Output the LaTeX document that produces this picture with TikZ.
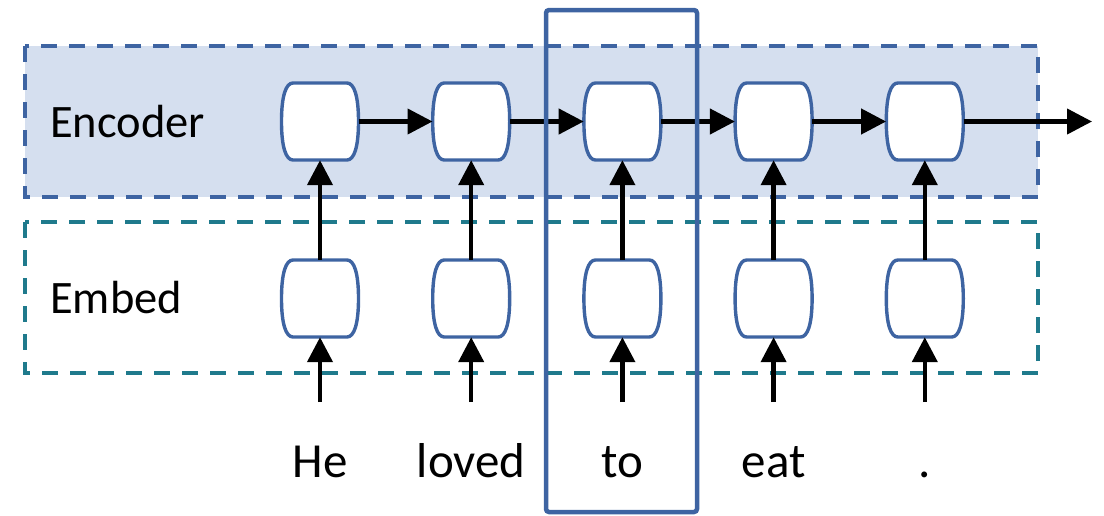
\documentclass[tikz,border=0pt]{standalone}
\usepackage{fontspec}
\setmainfont{Carlito}
\usetikzlibrary{arrows.meta}
\definecolor{encfill}{RGB}{213,223,239}
\definecolor{blueline}{RGB}{62,100,162}
\definecolor{tealline}{RGB}{31,122,140}
\tikzset{
  cellnode/.style={draw=none,inner sep=0pt,minimum width=77pt,minimum height=77pt},
  cellline/.style={draw=blueline,line width=3.4pt,fill=white},
  conn/.style={line width=4.3pt,-{Triangle[length=25pt,width=25pt]}},
  encbox/.style={draw=blueline,fill=encfill,line width=3.6pt,dash pattern=on 16pt off 12pt},
  embbox/.style={draw=tealline,line width=3.6pt,dash pattern=on 16pt off 12pt},
  hibox/.style={draw=blueline,line width=4.5pt,rounded corners=3pt},
  lbl/.style={inner sep=0pt,anchor=base west,font=\fontsize{46.5}{50}\selectfont},
  word/.style={inner sep=0pt,anchor=base,font=\fontsize{49}{52}\selectfont}
}
\newcommand{\cellat}[3]{%
  \node[cellnode] (#1) at (#2,#3) {};
  \begin{scope}[shift={(#2,#3)}]
    \path[cellline] (-27,-38.5) -- (27,-38.5)
      .. controls (34,-38.5) and (38.5,-26) .. (38.5,0)
      .. controls (38.5,26) and (34,38.5) .. (27,38.5)
      -- (-27,38.5)
      .. controls (-34,38.5) and (-38.5,26) .. (-38.5,0)
      .. controls (-38.5,-26) and (-34,-38.5) .. (-27,-38.5) -- cycle;
  \end{scope}}
\begin{document}
\begin{tikzpicture}[x=1pt,y=-1pt]
\useasboundingbox (0,0) rectangle (1104,515);
% group boxes
\path[encbox] (25,46) rectangle (1038,197);
\path[embbox] (25,222) rectangle (1038,373);
\node[lbl] (enc) at (50,137) {Encoder};
\node[lbl] (emb) at (50,313) {Embed};
% cells
\foreach \i/\w in {1/He,2/loved,3/to,4/eat,5/.}{
  \pgfmathsetmacro{\xx}{320+151.2*(\i-1)}
  \cellat{e\i}{\xx}{121.5}
  \cellat{m\i}{\xx}{298.5}
  \coordinate (s\i) at (\xx,402);
  \node[word] (w\i) at (\xx,477) {\w};
}
\coordinate (out) at (1092,121.5);
% connectors
\foreach \i in {1,...,5}{
  \draw[conn] (m\i.north) -- (e\i.south);
  \draw[conn] (s\i) -- (m\i.south);
}
\foreach \i/\j in {1/2,2/3,3/4,4/5}{
  \draw[conn] (e\i.east) -- (e\j.west);
}
\draw[conn] (e5.east) -- (out);
% highlight box
\path[hibox] (546,10) rectangle (697,512);
\end{tikzpicture}
\end{document}
